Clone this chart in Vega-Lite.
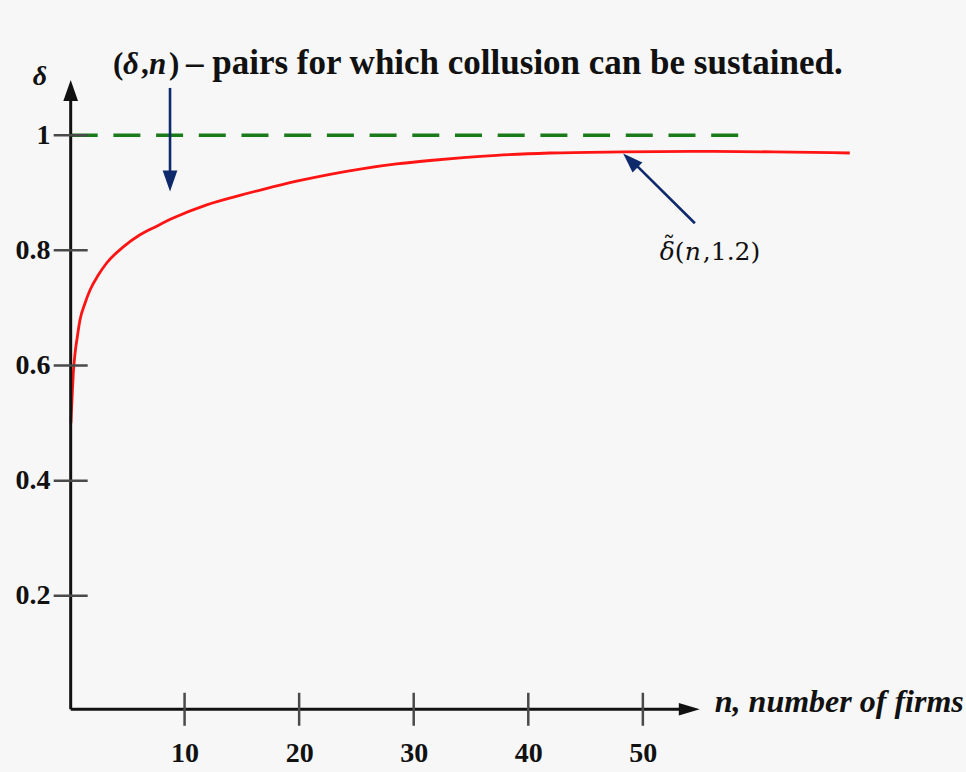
{
  "$schema": "https://vega.github.io/schema/vega-lite/v6.json",
  "width": 802,
  "height": 691,
  "autosize": {"type": "none"},
  "padding": {"left": 70, "top": 20, "right": 94, "bottom": 61},
  "background": "#f7f7f7",
  "config": {
    "view": {"stroke": null},
    "text": {"font": "Liberation Serif", "fontWeight": "bold", "color": "#111111"}
  },
  "datasets": {
    "curve": [
      {"n": 0.08, "d": 0.5},
      {"n": 0.2, "d": 0.552},
      {"n": 0.29, "d": 0.587},
      {"n": 0.44, "d": 0.621},
      {"n": 0.64, "d": 0.65},
      {"n": 0.87, "d": 0.679},
      {"n": 1.31, "d": 0.708},
      {"n": 1.75, "d": 0.731},
      {"n": 2.47, "d": 0.757},
      {"n": 3.2, "d": 0.778},
      {"n": 4.65, "d": 0.806},
      {"n": 6.11, "d": 0.827},
      {"n": 7.57, "d": 0.842},
      {"n": 9.01, "d": 0.856},
      {"n": 11.93, "d": 0.879},
      {"n": 14.83, "d": 0.8955},
      {"n": 16.87, "d": 0.906},
      {"n": 19.78, "d": 0.92},
      {"n": 22.69, "d": 0.932},
      {"n": 25.59, "d": 0.942},
      {"n": 28.51, "d": 0.95},
      {"n": 31.41, "d": 0.956},
      {"n": 34.32, "d": 0.961},
      {"n": 37.23, "d": 0.965},
      {"n": 41.88, "d": 0.969},
      {"n": 48.28, "d": 0.971},
      {"n": 55.56, "d": 0.972},
      {"n": 61.37, "d": 0.971},
      {"n": 68.06, "d": 0.969}
    ],
    "bound": [{"n": 0.06, "d": 1}, {"n": 58.7, "d": 1}],
    "axisLines": [
      {"n": 0.06, "d": 0.003, "n2": 0.06, "d2": 1.07},
      {"n": 0.06, "d": 0.003, "n2": 53.5, "d2": 0.003}
    ],
    "yTicks": [
      {"n": 0.06, "d": 0.2}, {"n": 0.06, "d": 0.4}, {"n": 0.06, "d": 0.6},
      {"n": 0.06, "d": 0.8}, {"n": 0.06, "d": 1}
    ],
    "xTicks": [
      {"n": 10, "d": 0.003}, {"n": 20, "d": 0.003}, {"n": 30, "d": 0.003},
      {"n": 40, "d": 0.003}, {"n": 50, "d": 0.003}
    ],
    "pointers": [
      {"n": 8.73, "d": 1.082, "n2": 8.73, "d2": 0.93},
      {"n": 54.54, "d": 0.847, "n2": 48.8, "d2": 0.96}
    ]
  },
  "layer": [
    {
      "data": {"name": "bound"},
      "mark": {"type": "line", "color": "#1b7b1b", "strokeWidth": 3.5, "strokeDash": [27, 15.7]},
      "encoding": {
        "x": {
          "field": "n", "type": "quantitative",
          "scale": {"domain": [0, 70], "nice": false, "zero": false},
          "axis": {
            "values": [10, 20, 30, 40, 50], "domain": false, "ticks": false, "grid": false,
            "title": null, "labelFont": "Liberation Serif", "labelFontWeight": "bold",
            "labelFontSize": 28, "labelColor": "#111111", "labelPadding": 28
          }
        },
        "y": {
          "field": "d", "type": "quantitative",
          "scale": {"domain": [0, 1.2], "nice": false, "zero": false},
          "axis": {
            "values": [0.2, 0.4, 0.6, 0.8, 1], "domain": false, "ticks": false, "grid": false,
            "title": null, "labelFont": "Liberation Serif", "labelFontWeight": "bold",
            "labelFontSize": 28, "labelColor": "#111111", "labelPadding": 20,
            "labelExpr": "datum.value == 1 ? '1' : format(datum.value, '.1f')"
          }
        }
      }
    },
    {
      "data": {"name": "curve"},
      "mark": {"type": "line", "color": "#ff1414", "strokeWidth": 2.8, "interpolate": "monotone"},
      "encoding": {
        "x": {"field": "n", "type": "quantitative"},
        "y": {"field": "d", "type": "quantitative"}
      }
    },
    {
      "data": {"name": "axisLines"},
      "mark": {"type": "rule", "color": "#111111", "strokeWidth": 3},
      "encoding": {
        "x": {"field": "n", "type": "quantitative"},
        "y": {"field": "d", "type": "quantitative"},
        "x2": {"field": "n2"},
        "y2": {"field": "d2"}
      }
    },
    {
      "data": {"name": "yTicks"},
      "mark": {"type": "tick", "orient": "horizontal", "color": "#4a4a4a", "size": 34, "thickness": 2.5, "opacity": 1},
      "encoding": {
        "x": {"field": "n", "type": "quantitative"},
        "y": {"field": "d", "type": "quantitative"}
      }
    },
    {
      "data": {"name": "xTicks"},
      "mark": {"type": "tick", "orient": "vertical", "color": "#4a4a4a", "size": 33, "thickness": 2.5, "opacity": 1},
      "encoding": {
        "x": {"field": "n", "type": "quantitative"},
        "y": {"field": "d", "type": "quantitative"}
      }
    },
    {
      "data": {"values": [{"n": 0.06, "d": 1.096}]},
      "mark": {"type": "point", "filled": true, "color": "#111111", "opacity": 1, "size": 441, "strokeWidth": 0, "angle": 0, "shape": "M0,0L0.7,2L-0.7,2Z"},
      "encoding": {
        "x": {"field": "n", "type": "quantitative"},
        "y": {"field": "d", "type": "quantitative"}
      }
    },
    {
      "data": {"values": [{"n": 54.97, "d": 0.003}]},
      "mark": {"type": "point", "filled": true, "color": "#111111", "opacity": 1, "size": 441, "strokeWidth": 0, "angle": 90, "shape": "M0,0L0.6,2L-0.6,2Z"},
      "encoding": {
        "x": {"field": "n", "type": "quantitative"},
        "y": {"field": "d", "type": "quantitative"}
      }
    },
    {
      "data": {"name": "pointers"},
      "mark": {"type": "rule", "color": "#0e2a6b", "strokeWidth": 2.6},
      "encoding": {
        "x": {"field": "n", "type": "quantitative"},
        "y": {"field": "d", "type": "quantitative"},
        "x2": {"field": "n2"},
        "y2": {"field": "d2"}
      }
    },
    {
      "data": {"values": [{"n": 8.73, "d": 0.902}]},
      "mark": {"type": "point", "filled": true, "color": "#0e2a6b", "opacity": 1, "size": 441, "strokeWidth": 0, "angle": 180, "shape": "M0,0L0.7,2L-0.7,2Z"},
      "encoding": {
        "x": {"field": "n", "type": "quantitative"},
        "y": {"field": "d", "type": "quantitative"}
      }
    },
    {
      "data": {"values": [{"n": 48.28, "d": 0.968}]},
      "mark": {"type": "point", "filled": true, "color": "#0e2a6b", "opacity": 1, "size": 400, "strokeWidth": 0, "angle": 314.3, "shape": "M0,0L0.7,2L-0.7,2Z"},
      "encoding": {
        "x": {"field": "n", "type": "quantitative"},
        "y": {"field": "d", "type": "quantitative"}
      }
    },
    {
      "data": {"values": [{"n": -2.62, "d": 1.101}]},
      "mark": {"type": "text", "text": "δ", "fontSize": 28, "fontStyle": "italic", "align": "center", "baseline": "middle"},
      "encoding": {
        "x": {"field": "n", "type": "quantitative"},
        "y": {"field": "d", "type": "quantitative"}
      }
    },
    {
      "data": {"values": [{"n": 3.75, "d": 1.106}]},
      "layer": [
        {"mark": {"type": "text", "text": "(", "fontSize": 31, "align": "left", "baseline": "alphabetic", "dx": 0}},
        {"mark": {"type": "text", "text": "δ", "fontSize": 31, "fontStyle": "italic", "align": "left", "baseline": "alphabetic", "dx": 10}},
        {"mark": {"type": "text", "text": ",", "fontSize": 31, "align": "left", "baseline": "alphabetic", "dx": 28}},
        {"mark": {"type": "text", "text": "n", "fontSize": 31, "fontStyle": "italic", "align": "left", "baseline": "alphabetic", "dx": 36}},
        {"mark": {"type": "text", "text": ")", "fontSize": 31, "align": "left", "baseline": "alphabetic", "dx": 56}},
        {"mark": {"type": "text", "text": "– pairs for which collusion can be sustained.", "fontSize": 35, "align": "left", "baseline": "alphabetic", "dx": 73}}
      ],
      "encoding": {
        "x": {"field": "n", "type": "quantitative"},
        "y": {"field": "d", "type": "quantitative"}
      }
    },
    {
      "data": {"values": [{"n": 51.48, "d": 0.783}]},
      "layer": [
        {"mark": {"type": "text", "text": "δ", "font": "DejaVu Serif", "fontWeight": "normal", "fontStyle": "italic", "fontSize": 25, "align": "left", "baseline": "alphabetic", "dx": 0}},
        {"mark": {"type": "text", "text": "˜", "font": "DejaVu Serif", "fontWeight": "normal", "fontSize": 25, "align": "left", "baseline": "alphabetic", "dx": 3, "dy": -6}},
        {"mark": {"type": "text", "text": "(", "font": "DejaVu Serif", "fontWeight": "normal", "fontSize": 25, "align": "left", "baseline": "alphabetic", "dx": 15}},
        {"mark": {"type": "text", "text": "n", "font": "DejaVu Serif", "fontWeight": "normal", "fontStyle": "italic", "fontSize": 25, "align": "left", "baseline": "alphabetic", "dx": 25}},
        {"mark": {"type": "text", "text": ",1.2)", "font": "DejaVu Serif", "fontWeight": "normal", "fontSize": 25, "align": "left", "baseline": "alphabetic", "dx": 43}}
      ],
      "encoding": {
        "x": {"field": "n", "type": "quantitative"},
        "y": {"field": "d", "type": "quantitative"}
      }
    },
    {
      "data": {"values": [{"n": 56.28, "d": 0}]},
      "mark": {"type": "text", "text": "n, number of firms", "fontSize": 32, "fontStyle": "italic", "align": "left", "baseline": "alphabetic", "dy": 1},
      "encoding": {
        "x": {"field": "n", "type": "quantitative"},
        "y": {"field": "d", "type": "quantitative"}
      }
    }
  ]
}
